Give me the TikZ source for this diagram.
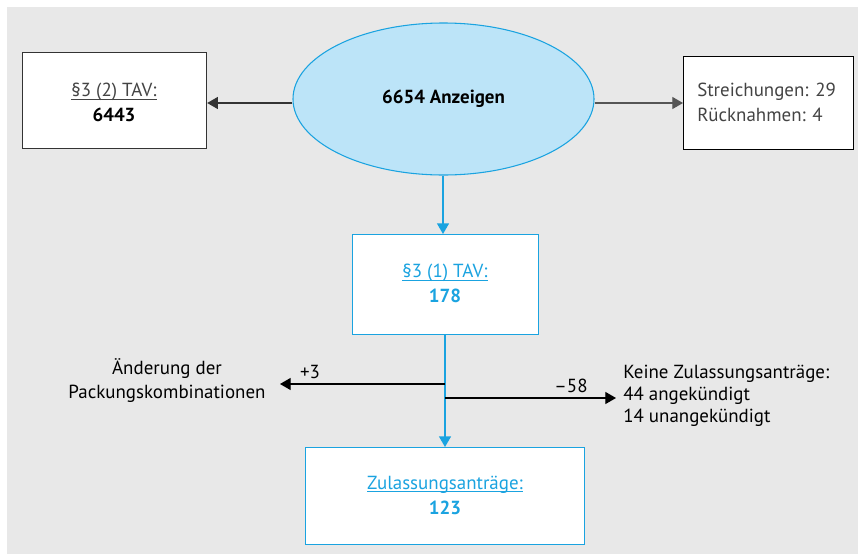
\documentclass[tikz,border=0pt]{standalone}
\usepackage{fontspec}
\setmainfont{PT Sans}
\usetikzlibrary{shapes.geometric,arrows.meta}
\definecolor{bgray}{HTML}{E8E8E8}
\definecolor{flowblue}{HTML}{1AA3E0}
\definecolor{ellfill}{HTML}{BCE4F8}
\definecolor{darkline}{HTML}{333333}
\definecolor{softline}{HTML}{555555}
\definecolor{softtext}{HTML}{444444}
% underline just below the baseline, without adding depth to the line
\newcommand\headline[1]{\setbox0\hbox{#1}\rlap{\smash{\rule[-2.4pt]{\wd0}{0.6pt}}}\box0}
\tikzset{
  x=0.75pt, y=-0.75pt,
  every node/.style={font=\fontsize{14.2}{18.75}\selectfont, inner sep=0pt},
  plainbox/.style={draw=black, fill=white, line width=0.9pt, anchor=north west},
  bluebox/.style={draw=flowblue, fill=white, line width=1pt, anchor=north west, text=flowblue},
  tip/.style={-{Triangle[length=8pt,width=9pt]}},
  label/.style={align=center},
}
\begin{document}
\begin{tikzpicture}
\useasboundingbox (0,0) rectangle (858,554);
\fill[white] (0,0) rectangle (858,554);
\fill[bgray] (7,7) rectangle (858,554);

% top row
\node[ellipse, draw=flowblue, fill=ellfill, line width=0.8pt,
      minimum width=301*0.75pt, minimum height=152*0.75pt] (total) at (443.5,99) {\bfseries 6654 Anzeigen};
\node[plainbox, draw=darkline, minimum width=184*0.75pt, minimum height=96*0.75pt] (para2) at (22,52) {};
\node[label] (para2t) at (114,102) {\textcolor{softtext}{\headline{§3 (2) TAV:}}\\ \bfseries 6443};
\node[plainbox, minimum width=170*0.75pt, minimum height=93*0.75pt] (drop) at (683,56) {};
\node[align=left, anchor=west, text=softtext] (dropt) at (697,102) {Streichungen: 29\\Rücknahmen: 4};

% middle and bottom boxes
\node[bluebox, minimum width=186*0.75pt, minimum height=100*0.75pt] (para1) at (352,234) {};
\node[label, text=flowblue] (para1t) at (445,283) {\headline{§3 (1) TAV:}\\ \bfseries 178};
\node[bluebox, minimum width=279*0.75pt, minimum height=97*0.75pt] (appl) at (305,447) {};
\node[label, text=flowblue] (applt) at (445,495) {\headline{Zulassungsanträge:}\\ \bfseries 123};

% side branches
\coordinate (bl) at (445,384);
\coordinate (br) at (445,398);
\coordinate (lend) at (280,384);
\coordinate (rend) at (616,398);
\node[label, font=\fontsize{14.2}{18}\selectfont] (pack) at (167,381) {Änderung der\\Packungskombinationen};
\node[align=left, anchor=west, font=\fontsize{14.2}{16.5}\selectfont] (none) at (623,396) {Keine Zulassungsanträge:\\44 angekündigt\\14 unangekündigt};
\node (plus) at (310,372) {+3};
\node (minus) at (571,386) {–58};

% connectors
\draw[tip, darkline, line width=0.9pt] (total.west |- 0,103) -- (para2.east |- 0,103);
\draw[tip, softline, line width=0.9pt] (total.east |- 0,103) -- (drop.west |- 0,103);
\draw[tip, flowblue, line width=1pt] (total.south -| 443,0) -- (para1.north -| 443,0);
\draw[tip, flowblue, line width=1pt] (para1.south -| 445,0) -- (appl.north -| 445,0);
\draw[tip, black, line width=0.9pt] (bl) -- (lend);
\draw[tip, black, line width=0.9pt] (br) -- (rend);
\end{tikzpicture}
\end{document}
